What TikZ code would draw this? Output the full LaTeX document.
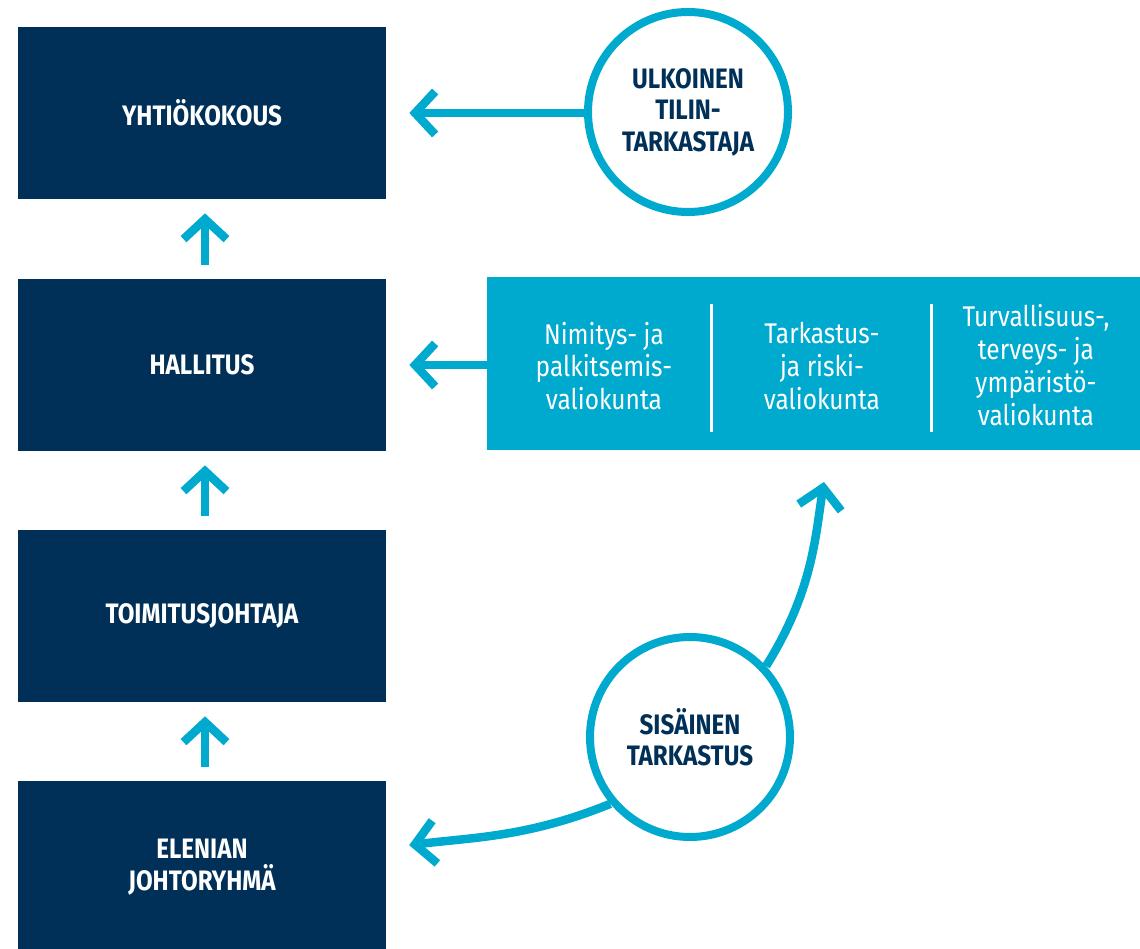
\documentclass[tikz,border=0pt]{standalone}
\usepackage{fontspec}
\setmainfont{Fira Sans}[FakeStretch=0.86]
\usepackage{tikz}
\usetikzlibrary{positioning, arrows.meta, calc}
\definecolor{elnavy}{RGB}{0,48,87}
\definecolor{elcyan}{RGB}{0,169,206}

\begin{document}
\begin{tikzpicture}[
  org/.style={rectangle, fill=elnavy, text=white, minimum width=7.36cm,
    minimum height=3.44cm, align=center, inner sep=0pt,
    font=\fontsize{16}{17.9}\selectfont\bfseries},
  ring/.style={circle, draw=elcyan, line width=0.16cm, fill=white,
    text=elnavy, align=center, inner sep=0pt, minimum size=4.0cm,
    font=\fontsize{16}{17.9}\selectfont\bfseries},
  comm/.style={rectangle, fill=elcyan, minimum width=13.06cm,
    minimum height=3.46cm, inner sep=0pt},
  vk/.style={text=white, align=center, inner sep=0pt,
    font=\fontsize{16.2}{18.7}\selectfont},
  sep/.style={white, line width=0.06cm},
  arr/.style={-{Straight Barb[length=0.4cm, width=0.86cm]},
    line width=0.17cm, elcyan},
]
  \useasboundingbox (0,0) rectangle (22.8,18.96);

  % governance chain
  \node[org] (yht) at (4.04,16.70) {YHTIÖKOKOUS};
  \node[org] (hal) at (4.04,11.66) {HALLITUS};
  \node[org] (toim) at (4.04,6.64) {TOIMITUSJOHTAJA};
  \node[org] (elen) at (4.04,1.62) {ELENIAN\\JOHTORYHMÄ};

  % auditors
  \node[ring] (ulk) at (13.76,16.72) {ULKOINEN\\TILIN-\\TARKASTAJA};
  \node[ring] (sis) at (13.8,4.22) {SISÄINEN\\TARKASTUS};

  % board committees
  \node[comm] (val) at (16.27,11.69) {};
  \node[vk] (vk1) at (12.08,11.64) {Nimitys- ja\\palkitsemis-\\valiokunta};
  \node[vk] (vk2) at (16.44,11.64) {Tarkastus-\\ja riski-\\valiokunta};
  \node[vk] (vk3) at (20.72,11.66) {Turvallisuus-,\\terveys- ja\\ympäristö-\\valiokunta};
  \draw[sep] ([xshift=4.5cm,yshift=-0.54cm]val.north west) -- ([xshift=4.5cm,yshift=0.36cm]val.south west);
  \draw[sep] ([xshift=8.9cm,yshift=-0.54cm]val.north west) -- ([xshift=8.9cm,yshift=0.36cm]val.south west);

  % reporting lines
  \draw[arr, shorten <=0.28cm, shorten >=0.28cm] ([xshift=0.06cm]hal.north) -- ([xshift=0.06cm]yht.south);
  \draw[arr, shorten <=0.28cm, shorten >=0.28cm] ([xshift=0.06cm]toim.north) -- ([xshift=0.06cm]hal.south);
  \draw[arr, shorten <=0.28cm, shorten >=0.28cm] ([xshift=0.06cm]elen.north) -- ([xshift=0.06cm]toim.south);
  \draw[arr, shorten >=0.46cm] (ulk.west |- yht) -- (yht.east);
  \draw[arr, shorten >=0.46cm] (val.west |- hal) -- (hal.east);

  % internal audit reports both ways
  \draw[arr, shorten >=0.64cm] (sis.43) to[out=58, in=-99] ([xshift=0.31cm]val.south);
  \draw[arr, shorten >=0.46cm] (sis.220) to[out=202, in=7] ([yshift=0.38cm]elen.east);
\end{tikzpicture}
\end{document}
